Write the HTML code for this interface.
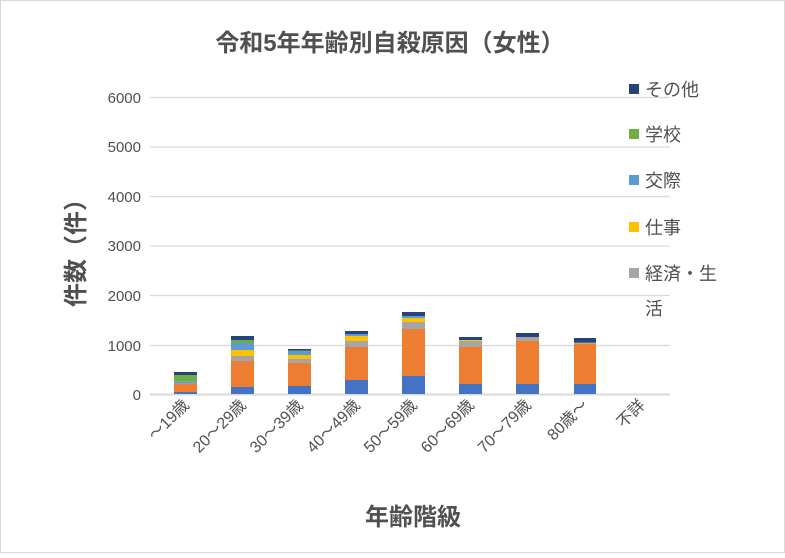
<!DOCTYPE html>
<html><head><meta charset="utf-8"><style>
body{margin:0;background:#fff}
svg text{font-family:"Liberation Sans","Noto Sans CJK JP",sans-serif}
</style></head><body>
<svg width="785" height="553" xmlns="http://www.w3.org/2000/svg">
<rect x="0.5" y="0.5" width="784" height="552" fill="#fff" stroke="#d9d9d9"/>
<text x="390" y="51" font-size="24" font-weight="bold" fill="#505050" text-anchor="middle">令和5年年齢別自殺原因（女性）</text>
<g stroke="#d9d9d9" stroke-width="1.3">
<line x1="150" x2="670" y1="97.5" y2="97.5"/>
<line x1="150" x2="670" y1="147" y2="147"/>
<line x1="150" x2="670" y1="196.5" y2="196.5"/>
<line x1="150" x2="670" y1="246" y2="246"/>
<line x1="150" x2="670" y1="295.5" y2="295.5"/>
<line x1="150" x2="670" y1="345.5" y2="345.5"/>
<line x1="150" x2="670" y1="394.5" y2="394.5" stroke-width="2"/>
</g>
<g font-size="15" fill="#505050" text-anchor="end">
<text x="141" y="103">6000</text><text x="141" y="152">5000</text><text x="141" y="202">4000</text>
<text x="141" y="251">3000</text><text x="141" y="301">2000</text><text x="141" y="351">1000</text><text x="141" y="400">0</text>
</g>
<g>
<rect x="174" y="392" width="23" height="2" fill="#4472c4"/>
<rect x="174" y="383.7" width="23" height="8.3" fill="#ed7d31"/>
<rect x="174" y="381.7" width="23" height="2" fill="#5b9bd5"/>
<rect x="174" y="375" width="23" height="6.7" fill="#70ad47"/>
<rect x="174" y="372" width="23" height="3" fill="#264478"/>
<rect x="231" y="387" width="23" height="7" fill="#4472c4"/>
<rect x="231" y="361" width="23" height="26" fill="#ed7d31"/>
<rect x="231" y="356" width="23" height="5" fill="#a5a5a5"/>
<rect x="231" y="350" width="23" height="6" fill="#ffc000"/>
<rect x="231" y="343" width="23" height="7" fill="#5b9bd5"/>
<rect x="231" y="340" width="23" height="3" fill="#70ad47"/>
<rect x="231" y="336" width="23" height="4" fill="#264478"/>
<rect x="288" y="386" width="23" height="8" fill="#4472c4"/>
<rect x="288" y="363" width="23" height="23" fill="#ed7d31"/>
<rect x="288" y="359" width="23" height="4" fill="#a5a5a5"/>
<rect x="288" y="355" width="23" height="4" fill="#ffc000"/>
<rect x="288" y="351" width="23" height="4" fill="#5b9bd5"/>
<rect x="288" y="350.5" width="23" height="0.7" fill="#70ad47"/>
<rect x="288" y="349" width="23" height="1.5" fill="#264478"/>
<rect x="345" y="380" width="23" height="14" fill="#4472c4"/>
<rect x="345" y="347" width="23" height="33" fill="#ed7d31"/>
<rect x="345" y="341" width="23" height="6" fill="#a5a5a5"/>
<rect x="345" y="336" width="23" height="5" fill="#ffc000"/>
<rect x="345" y="334" width="23" height="2" fill="#5b9bd5"/>
<rect x="345" y="331" width="23" height="3" fill="#264478"/>
<rect x="402" y="376" width="23" height="18" fill="#4472c4"/>
<rect x="402" y="329" width="23" height="47" fill="#ed7d31"/>
<rect x="402" y="322" width="23" height="7" fill="#a5a5a5"/>
<rect x="402" y="318" width="23" height="4" fill="#ffc000"/>
<rect x="402" y="316" width="23" height="2" fill="#5b9bd5"/>
<rect x="402" y="312" width="23" height="4" fill="#264478"/>
<rect x="459" y="384" width="23" height="10" fill="#4472c4"/>
<rect x="459" y="347" width="23" height="37" fill="#ed7d31"/>
<rect x="459" y="341" width="23" height="6" fill="#a5a5a5"/>
<rect x="459" y="340" width="23" height="1" fill="#ffc000"/>
<rect x="459" y="337" width="23" height="3" fill="#264478"/>
<rect x="516" y="384" width="23" height="10" fill="#4472c4"/>
<rect x="516" y="341" width="23" height="43" fill="#ed7d31"/>
<rect x="516" y="337" width="23" height="4" fill="#a5a5a5"/>
<rect x="516" y="333" width="23" height="4" fill="#264478"/>
<rect x="574" y="384" width="22" height="10" fill="#4472c4"/>
<rect x="574" y="343.7" width="22" height="40.3" fill="#ed7d31"/>
<rect x="574" y="342.7" width="22" height="1" fill="#a5a5a5"/>
<rect x="574" y="338" width="22" height="4.7" fill="#264478"/>
</g>
<g font-size="16" fill="#505050" text-anchor="end">
<text transform="translate(190,406) rotate(-45)">～19歳</text>
<text transform="translate(247,406) rotate(-45)">20～29歳</text>
<text transform="translate(304,406) rotate(-45)">30～39歳</text>
<text transform="translate(361,406) rotate(-45)">40～49歳</text>
<text transform="translate(418,406) rotate(-45)">50～59歳</text>
<text transform="translate(475,406) rotate(-45)">60～69歳</text>
<text transform="translate(532,406) rotate(-45)">70～79歳</text>
<text transform="translate(589,406) rotate(-45)">80歳～</text>
<text transform="translate(646,406) rotate(-45)">不詳</text>
</g>
<text transform="translate(84,247) rotate(-90)" font-size="24" font-weight="bold" fill="#505050" text-anchor="middle">件数（件）</text>
<text x="413" y="525" font-size="24" font-weight="bold" fill="#505050" text-anchor="middle">年齢階級</text>
<g font-size="18" fill="#505050">
<rect x="629" y="84" width="10" height="10" fill="#264478"/><text x="645" y="96">その他</text>
<rect x="629" y="129" width="10" height="10" fill="#70ad47"/><text x="645" y="141">学校</text>
<rect x="629" y="175" width="10" height="10" fill="#5b9bd5"/><text x="645" y="187">交際</text>
<rect x="629" y="222" width="10" height="10" fill="#ffc000"/><text x="645" y="234">仕事</text>
<rect x="629" y="268" width="10" height="10" fill="#a5a5a5"/><text x="645" y="280">経済・生</text>
<text x="645" y="315">活</text>
</g>
</svg>
</body></html>
